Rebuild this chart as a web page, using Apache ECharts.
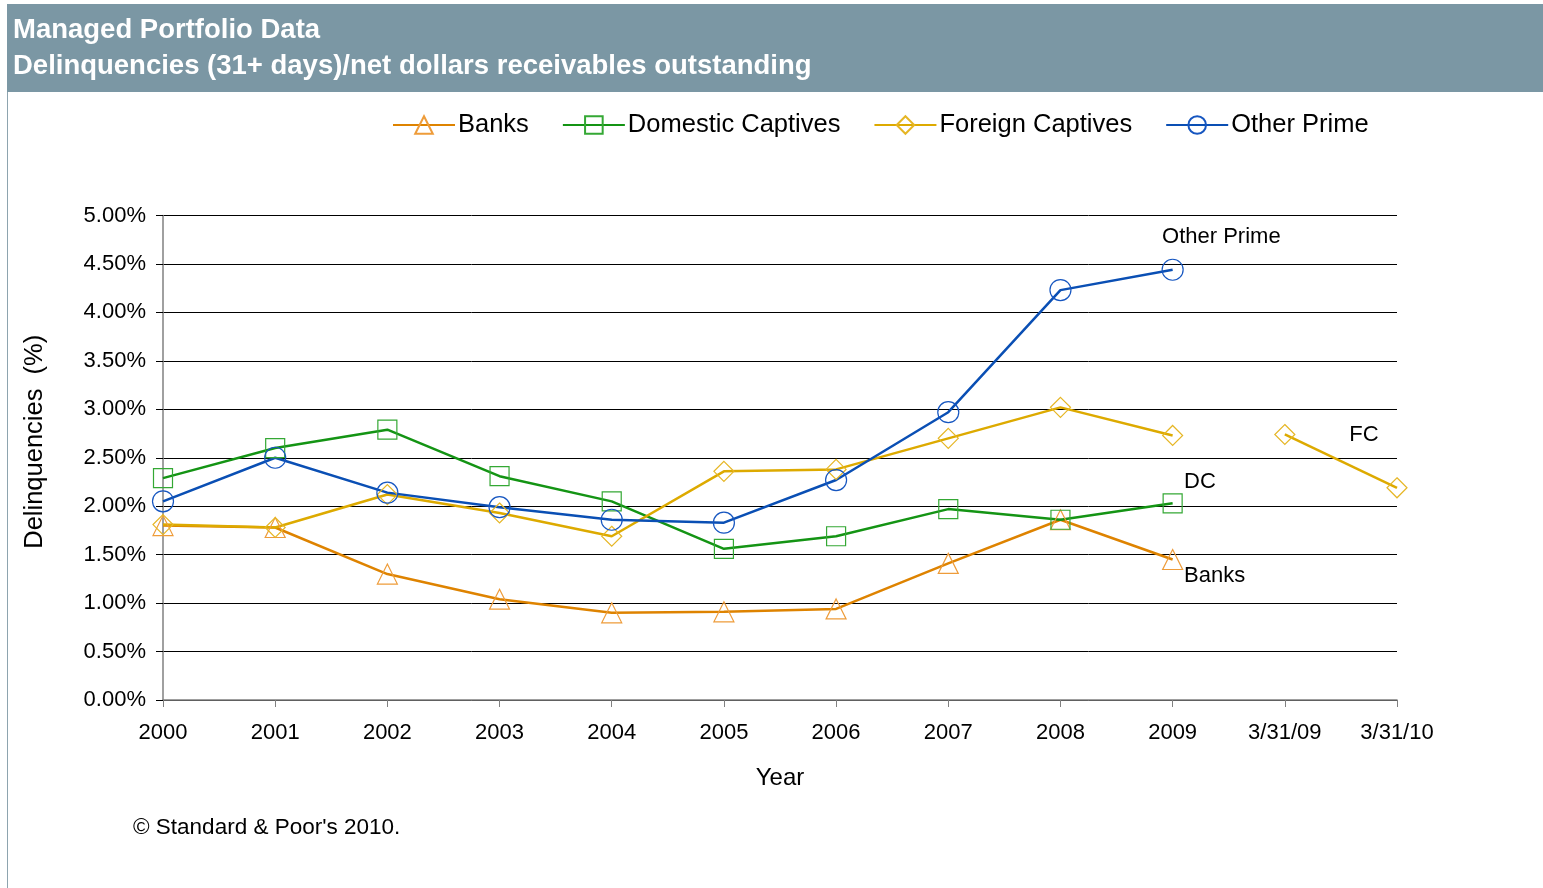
<!DOCTYPE html>
<html>
<head>
<meta charset="utf-8">
<title>Managed Portfolio Data</title>
<script src="https://cdn.jsdelivr.net/npm/echarts@6/dist/echarts.min.js"></script>
<style>
  html, body { margin: 0; padding: 0; background: #ffffff; }
  #chart { width: 1543px; height: 888px; }
</style>
</head>
<body>
<div id="chart"></div>
<script>
// Delinquencies (31+ days) as % of net dollar receivables outstanding
const categories = ['2000', '2001', '2002', '2003', '2004', '2005', '2006', '2007', '2008', '2009', '3/31/09', '3/31/10'];
const banks = [1.80, 1.78, 1.30, 1.04, 0.90, 0.91, 0.94, 1.41, 1.86, 1.45];
const domesticCaptives = [2.29, 2.60, 2.79, 2.31, 2.05, 1.56, 1.69, 1.97, 1.86, 2.03];
const foreignCaptives = [1.81, 1.78, 2.12, 1.93, 1.69, 2.36, 2.38, 2.70, 3.02, 2.73];
// quarterly points for foreign captives, plotted at '3/31/09' and '3/31/10'
const foreignCaptivesQuarterly = [2.74, 2.19];
const otherPrime = [2.05, 2.50, 2.14, 1.99, 1.86, 1.83, 2.27, 2.97, 4.23, 4.44];
const yTicks = { min: 0, max: 5, step: 0.5 };

const FONT = 'Liberation Sans, Arial, sans-serif';

const styles = {
  banks:   { line: '#DE8300', marker: '#EE9C3A', symbol: 'triangle', size: 20 },
  dc:      { line: '#149414', marker: '#34A834', symbol: 'rect',     size: 19 },
  fc:      { line: '#DDAA00', marker: '#E6B625', symbol: 'diamond',  size: 20 },
  op:      { line: '#0A4FB4', marker: '#1656C0', symbol: 'circle',   size: 21 }
};

// small end-of-line tag placed next to one data point
function tagged(values, index, text, dx, dy, size) {
  return values.map((v, i) => i !== index ? v : {
    value: v,
    label: {
      show: true,
      formatter: text,
      position: [dx + size / 2, dy + size / 2],
      align: 'left',
      verticalAlign: 'middle',
      color: '#000',
      fontFamily: FONT,
      fontSize: 22
    }
  });
}

function lineSeries(name, data, st) {
  return {
    name: name,
    type: 'line',
    data: data,
    symbol: st.symbol,
    symbolSize: st.size,
    showAllSymbol: true,
    connectNulls: false,
    lineStyle: { color: st.line, width: 2.5 },
    itemStyle: { color: 'rgba(255,255,255,0)', borderColor: st.marker, borderWidth: 1.2 },
    emphasis: { disabled: true },
    animation: false,
    z: 3
  };
}

const chart = echarts.init(document.getElementById('chart'), null, { renderer: 'canvas' });

const fcQuarterly = new Array(10).fill(null).concat(foreignCaptivesQuarterly);

const option = {
  backgroundColor: '#ffffff',
  animation: false,
  title: {
    text: 'Managed Portfolio Data\nDelinquencies (31+ days)/net dollars receivables outstanding',
    left: 13,
    top: 12,
    padding: 0,
    textStyle: {
      color: '#ffffff',
      fontFamily: FONT,
      fontWeight: 'bold',
      fontSize: 27.5,
      lineHeight: 36
    }
  },
  legend: {
    data: ['Banks', 'Domestic Captives', 'Foreign Captives', 'Other Prime'],
    left: 392,
    top: 112,
    padding: 0,
    itemWidth: 62,
    itemHeight: 22,
    itemGap: 33,
    textStyle: { color: '#000', fontFamily: FONT, fontSize: 25.5, padding: [0, 0, 0, -2] },
    selectedMode: false
  },
  grid: { left: 163, right: 146, top: 215.5, bottom: 188, containLabel: false },
  xAxis: {
    type: 'category',
    data: categories,
    boundaryGap: false,
    name: 'Year',
    nameLocation: 'middle',
    nameGap: 66,
    nameTextStyle: { color: '#000', fontFamily: FONT, fontSize: 24 },
    axisLine: { lineStyle: { color: '#808080', width: 1.5 } },
    axisTick: { show: true, length: 7, lineStyle: { color: '#808080' } },
    axisLabel: { color: '#000', fontFamily: FONT, fontSize: 22, margin: 22, interval: 0 },
    splitLine: { show: false }
  },
  yAxis: {
    type: 'value',
    min: yTicks.min,
    max: yTicks.max,
    interval: yTicks.step,
    name: 'Delinquencies  (%)',
    nameLocation: 'middle',
    nameRotate: 90,
    nameGap: 115,
    nameTextStyle: { color: '#000', fontFamily: FONT, fontSize: 25.5, padding: [0, 0, 0, 32] },
    axisLine: { show: true, lineStyle: { color: '#808080', width: 1.5 } },
    axisTick: { show: true, length: 7, lineStyle: { color: '#000' } },
    axisLabel: {
      color: '#000', fontFamily: FONT, fontSize: 22, margin: 17,
      formatter: v => v.toFixed(2) + '%'
    },
    splitLine: { show: true, lineStyle: { color: '#000', width: 1 } }
  },
  graphic: [
    {
      type: 'rect', z: -10, silent: true,
      shape: { x: 7, y: 4, width: 1536, height: 88 },
      style: { fill: '#7B97A4' }
    },
    {
      type: 'line', z: -10, silent: true,
      shape: { x1: 7.5, y1: 92, x2: 7.5, y2: 888 },
      style: { stroke: '#8EA4AF', lineWidth: 1 }
    },
    {
      type: 'text', left: 133, top: 816, silent: true,
      style: { text: '\u00A9 Standard & Poor\'s 2010.', fill: '#000', font: '22.5px ' + FONT }
    }
  ],
  series: [
    lineSeries('Banks', tagged(banks, 9, 'Banks', 12, 17, styles.banks.size), styles.banks),
    lineSeries('Domestic Captives', tagged(domesticCaptives, 9, 'DC', 12, -21, styles.dc.size), styles.dc),
    lineSeries('Foreign Captives', foreignCaptives, styles.fc),
    lineSeries('Foreign Captives', tagged(fcQuarterly, 10, 'FC', 65, 1, styles.fc.size), styles.fc),
    lineSeries('Other Prime', tagged(otherPrime, 9, 'Other Prime', -10, -32, styles.op.size), styles.op)
  ]
};

chart.setOption(option);
</script>
</body>
</html>
